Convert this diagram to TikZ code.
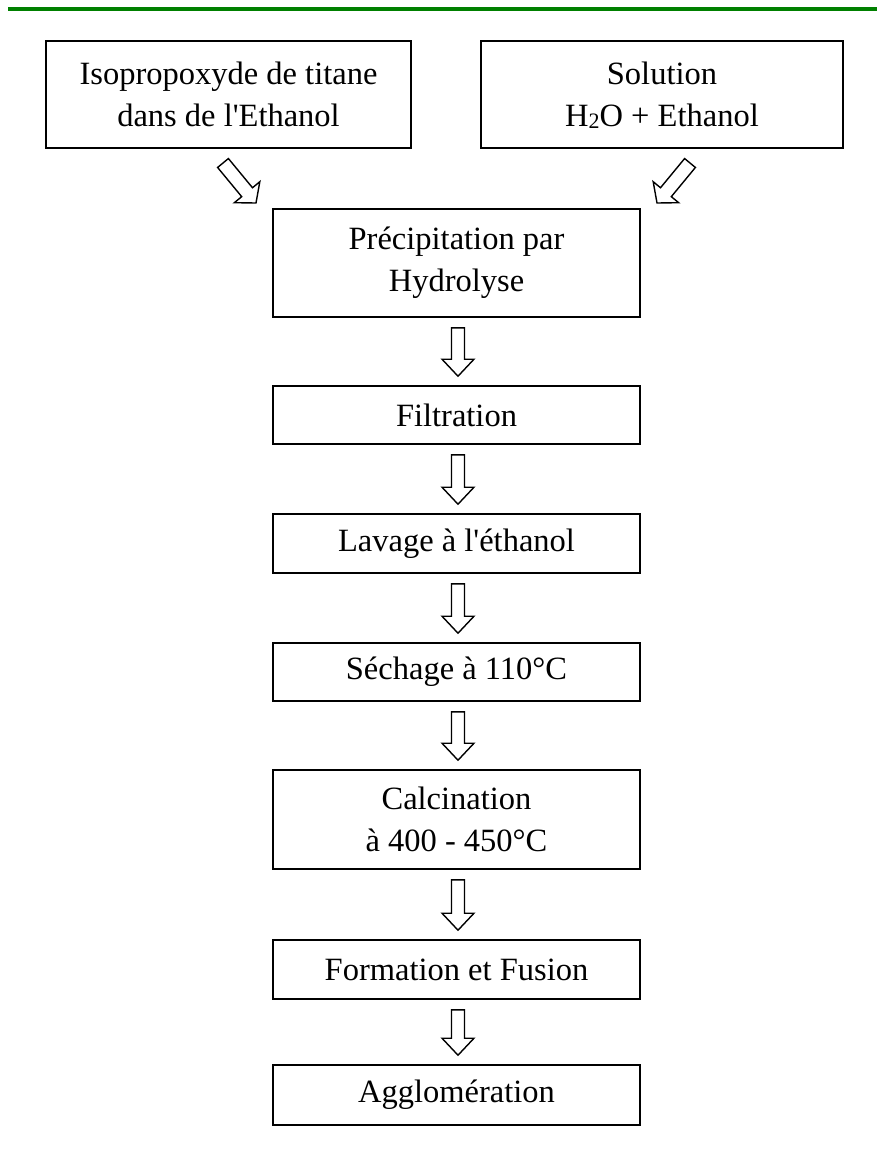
\documentclass[tikz,border=0pt]{standalone}
\usepackage{fontspec}
\setmainfont{Liberation Serif}
\newfontfamily\boxfont{Liberation Serif}
\usetikzlibrary{calc}
\definecolor{topgreen}{RGB}{0,128,0}
\tikzset{
  box/.style={draw=black, line width=1.6pt, inner sep=0pt, align=center,
    font=\boxfont\fontsize{32.5}{42}\selectfont},
  arrowline/.style={draw=black, line width=1.4pt, line join=miter, fill=white},
  greenrule/.style={draw=topgreen, line width=4.5pt}
}
% tail, tip, shaft half-width, head half-width, head length
\newcommand{\hollowarrow}[5]{%
  \coordinate (hb) at ($(#2)!#5!(#1)$);
  \draw[arrowline] ($(#1)!#3!90:(#2)$) -- ($(hb)!#3!90:(#2)$) -- ($(hb)!#4!90:(#2)$)
    -- (#2) -- ($(hb)!#4!-90:(#2)$) -- ($(hb)!#3!-90:(#2)$) -- ($(#1)!#3!-90:(#2)$) -- cycle;}
\begin{document}
\begin{tikzpicture}[x=1pt,y=1pt]
\useasboundingbox[fill=white] (0,0) rectangle (877,-1162);
\coordinate (gl) at (8,-9);
\coordinate (gr) at (877,-9);
\draw[greenrule] (gl) -- (gr);

\node[box, minimum width=365pt, minimum height=107pt] (a) at (228.5,-94.5)
  {Isopropoxyde de titane\\dans de l'Ethanol};
\node[box, minimum width=362pt, minimum height=107pt] (b) at (662,-94.5)
  {Solution\\H\smash{\raisebox{-0.15ex}{\fontsize{22}{22}\selectfont 2}}O + Ethanol};

\node[box, minimum width=367pt, minimum height=108pt] (prec) at (456.5,-263)
  {Précipitation par\\Hydrolyse};
\node[box, minimum width=367pt, minimum height=58pt] (filt) at (456.5,-415) {Filtration};
\node[box, minimum width=367pt, minimum height=59pt] (lav) at (456.5,-543.5) {Lavage à l'éthanol};
\node[box, minimum width=367pt, minimum height=58pt] (sech) at (456.5,-672) {Séchage à 110°C};
\node[box, minimum width=367pt, minimum height=99pt] (calc) at (456.5,-819.5)
  {Calcination\\à 400 - 450°C};
\node[box, minimum width=367pt, minimum height=59pt] (form) at (456.5,-969.5) {Formation et Fusion};
\node[box, minimum width=367pt, minimum height=60pt] (aggl) at (456.5,-1095) {Agglomération};

% diagonal arrows
\coordinate (lt) at (223,-163);
\coordinate (lh) at (256,-203);
\coordinate (rt) at (690,-163);
\coordinate (rh) at (657,-203);
\hollowarrow{lt}{lh}{7pt}{16.5pt}{14pt}
\hollowarrow{rt}{rh}{7pt}{16.5pt}{14pt}

% vertical arrows
\foreach \u/\v [count=\i] in {prec/filt, filt/lav, lav/sech, sech/calc, calc/form, form/aggl}{
  \coordinate (t\i) at ($(\u.south)+(1.5,-10)$);
  \coordinate (h\i) at ($(\v.north)+(1.5,9)$);
  \hollowarrow{t\i}{h\i}{6.5pt}{16pt}{17pt}
}
\end{tikzpicture}
\end{document}
